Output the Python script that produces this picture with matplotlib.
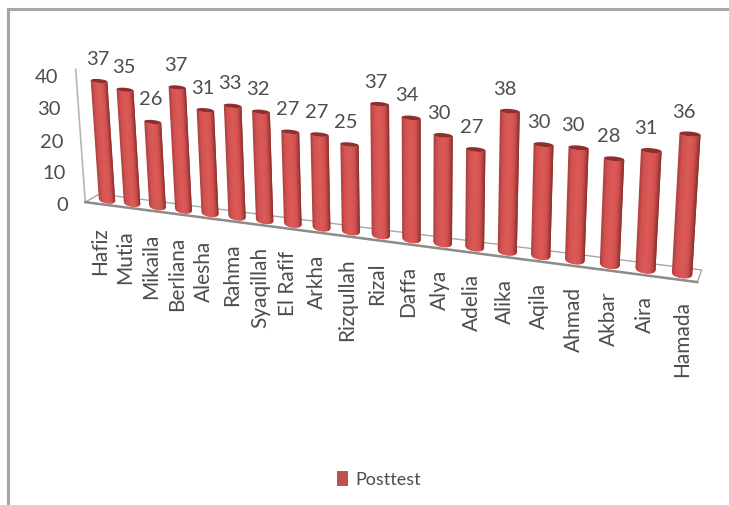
import numpy as np
import matplotlib
matplotlib.use("Agg")
import matplotlib.pyplot as plt
from matplotlib.transforms import Transform
from matplotlib.colors import LinearSegmentedColormap

plt.rcParams["font.family"] = ["Lato", "DejaVu Sans"]

# Chart content
students = ["Hafiz", "Mutia", "Mikaila", "Berliana", "Alesha", "Rahma", "Syaqillah",
            "El Rafif", "Arkha", "Rizqullah", "Rizal", "Daffa", "Alya", "Adelia",
            "Alika", "Aqila", "Ahmad", "Akbar", "Aira", "Hamada"]
posttest = [37, 35, 26, 37, 31, 33, 32, 27, 27, 25, 37, 34, 30, 27, 38, 30, 30, 28, 31, 36]
value_ticks = [0, 10, 20, 30, 40]
series_name = "Posttest"

TEXT = "#4d4d4d"
BAR_LEGEND = "#c0504d"
CAP = "#8e2f2d"


class PerspectiveTransform(Transform):
    """Projective map from (category index, value) to canvas pixels."""
    input_dims = 2
    output_dims = 2
    is_separable = False
    has_inverse = False

    def __init__(self, source, target):
        super().__init__()
        rows, rhs = [], []
        for (u, v), (x, y) in zip(source, target):
            rows.append([u, v, 1, 0, 0, 0, -u * x, -v * x])
            rows.append([0, 0, 0, u, v, 1, -u * y, -v * y])
            rhs += [x, y]
        self.matrix = np.append(np.linalg.solve(np.array(rows, float), np.array(rhs, float)), 1).reshape(3, 3)

    def transform_non_affine(self, values):
        pts = np.column_stack([np.asarray(values, float), np.ones(len(values))])
        out = pts @ self.matrix.T
        return out[:, :2] / out[:, 2:3]


fig = plt.figure(figsize=(7.29, 5.06), dpi=100, facecolor="white")
ax = fig.add_axes([0, 0, 1, 1])
ax.set_xlim(0, 729)
ax.set_ylim(506, 0)
ax.axis("off")
ax.set_autoscale_on(False)

# Perspective of the tilted plot box
persp = PerspectiveTransform(
    [(0, 0), (19, 0), (0, 37), (19, 37)],
    [(107, 201), (682, 275), (99, 82), (690.2, 131)],
)
chart = persp + ax.transData

# Outer chart border (top and left only)
ax.plot([8, 8, 729], [506, 10, 10], color="#a6a6a6", lw=2.2, solid_joinstyle="miter")

# Floor and back wall edge
floor_i = [-0.9, 19.42, 19.52, -0.3]
floor_v = [-1.6, -1.6, 1.7, 1.6]
ax.fill(floor_i, floor_v, transform=chart, facecolor="white", edgecolor="#a6a6a6", lw=1.0, zorder=1)
ax.plot(floor_i[:2], floor_v[:2], transform=chart, color="#8c8c8c", lw=1.8, zorder=1.2)
ax.plot([-0.9, -0.9], [-1.6, 40], transform=chart, color="#b5b5b5", lw=1.2, zorder=1.1)

# Shaded cylinders painted left to right from overlapping strips
shade = LinearSegmentedColormap.from_list(
    "cyl", [(0, "#ab3f3c"), (0.2, "#d25250"), (0.5, "#dc5a57"),
            (0.75, "#d35250"), (0.9, "#ab3e3b"), (1, "#8a2b29")])
bottom_drop = 1.1
top_drop = 0.6
edges = np.linspace(-1, 1, 25)

for i, val in enumerate(posttest):
    half_width = 0.33 - 0.055 * i / 19
    for k in range(len(edges) - 1):
        ts = np.array([edges[k], edges[min(k + 2, len(edges) - 1)]])
        us = i + half_width * ts
        arc = np.sqrt(np.clip(1 - ts ** 2, 0, 1))
        xs = [us[0], us[1], us[1], us[0]]
        ys = [-bottom_drop * arc[0], -bottom_drop * arc[1],
              val - top_drop * arc[1], val - top_drop * arc[0]]
        ax.fill(xs, ys, transform=chart, color=shade((k + 0.5) / (len(edges) - 1)),
                lw=0, zorder=2 + i * 0.01 + k * 0.0001)
    angle = np.linspace(0, 2 * np.pi, 40)
    ax.fill(i + half_width * np.cos(angle), val + top_drop * np.sin(angle),
            transform=chart, color=CAP, lw=0, zorder=2.5 + i * 0.01)

    # Value above each bar, category name under the floor
    ax.annotate(str(val), xy=(i, val), xycoords=chart,
                xytext=(-1 - 5 * i / 19, 23), textcoords="offset pixels",
                ha="center", va="center", fontsize=14.5, color=TEXT, zorder=5)
    ax.annotate(students[i], xy=(i, 0), xycoords=chart,
                xytext=(-7 + 7 * i / 19, -26), textcoords="offset pixels",
                ha="center", va="top", rotation=90, fontsize=15, color=TEXT, zorder=5)

# Value axis labels along the wall edge
for tick in value_ticks:
    ax.annotate(str(tick), xy=(-0.9, tick), xycoords=chart,
                xytext=(-17, -7), textcoords="offset pixels",
                ha="right", va="center", fontsize=14.5, color=TEXT, zorder=5)

# Legend
ax.fill([337, 348, 348, 337], [472, 472, 487, 487], color=BAR_LEGEND, lw=0)
ax.text(355, 480, series_name, ha="left", va="center", fontsize=13, color=TEXT)

fig.savefig("out.png", dpi=100)
